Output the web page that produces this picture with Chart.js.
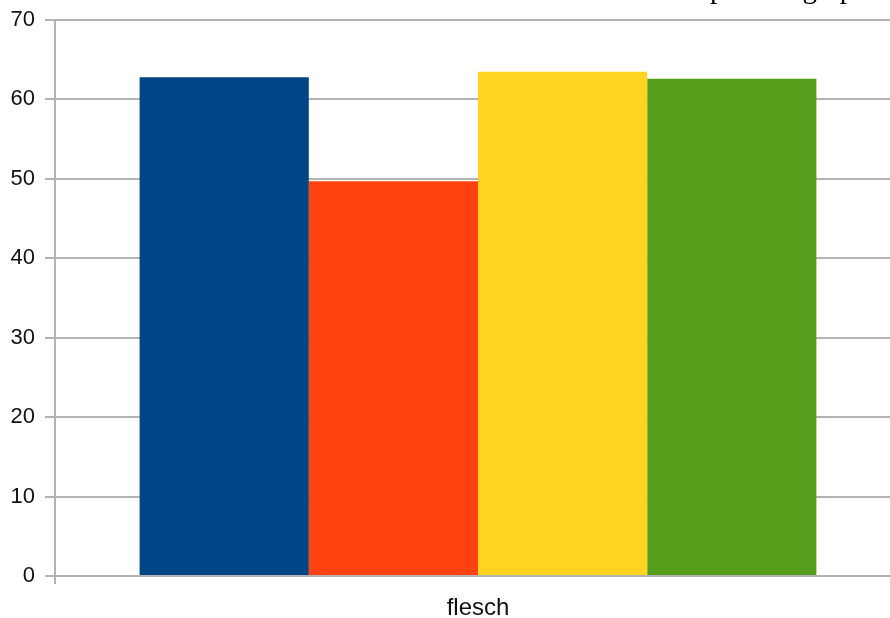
<!DOCTYPE html>
<html>
<head>
<meta charset="utf-8">
<script src="https://cdn.jsdelivr.net/npm/chart.js@4/dist/chart.umd.min.js"></script>
<style>
  html, body { margin: 0; padding: 0; background: #fff; overflow: hidden; }
  #wrap { position: relative; width: 902px; height: 618px; }
</style>
</head>
<body>
<div id="wrap"><canvas id="mainGraph"></canvas></div>
<script>
// chart data
var categories = ["flesch"];
var seriesNames = ["Serie 1", "Serie 2", "Serie 3", "Serie 4"];
var seriesValues = [[62.8], [49.7], [63.5], [62.6]];
var seriesColors = ["#004586", "#ff420e", "#ffd320", "#579d1c"];
var yTicks = [0, 10, 20, 30, 40, 50, 60, 70];
var titleText = "comparison graph";

var datasets = [];
for (var i = 0; i < seriesNames.length; i++) {
    datasets.push({
        label: seriesNames[i],
        data: seriesValues[i],
        backgroundColor: seriesColors[i],
        borderWidth: 0,
        categoryPercentage: 0.8,
        barPercentage: 1.0
    });
}

// title sits above the canvas top, only its descenders show
var topTitle = {
    id: 'topTitle',
    afterDraw: function (chart) {
        var c = chart.ctx;
        c.save();
        c.font = '29px "Liberation Serif"';
        c.fillStyle = '#000';
        c.textBaseline = 'alphabetic';
        c.textAlign = 'left';
        var x = 710 - c.measureText("com").width;
        c.fillText(titleText, x, -2);
        c.restore();
    }
};

var ctx = document.getElementById('mainGraph').getContext('2d');
var chart = new Chart(ctx, {
    type: 'bar',
    data: {
        labels: categories,
        datasets: datasets
    },
    plugins: [topTitle],
    options: {
        responsive: true,
        maintainAspectRatio: false,
        animation: false,
        events: [],
        layout: { padding: { top: 20, right: 1, left: 0, bottom: 0 } },
        plugins: {
            legend: { display: false },
            tooltip: { enabled: false }
        },
        scales: {
            x: {
                offset: true,
                grid: {
                    offset: true,
                    drawOnChartArea: false,
                    tickLength: 8,
                    color: '#b3b3b3',
                    lineWidth: 2
                },
                border: { color: '#b3b3b3', width: 2 },
                ticks: {
                    color: '#111',
                    padding: 10,
                    font: { family: '"Liberation Sans"', size: 24 }
                },
                afterFit: function (scale) { scale.height = 42; }
            },
            y: {
                min: 0,
                max: 70,
                afterBuildTicks: function (scale) {
                    scale.ticks = yTicks.map(function (v) { return { value: v }; });
                },
                grid: {
                    color: '#b3b3b3',
                    lineWidth: 2,
                    tickLength: 10
                },
                border: { color: '#b3b3b3', width: 2 },
                ticks: {
                    color: '#111',
                    padding: 10,
                    font: { family: '"Liberation Sans"', size: 22 }
                },
                afterFit: function (scale) {
                    scale.width = 55;
                    scale.paddingTop = 0;
                    scale.paddingBottom = 0;
                }
            }
        }
    }
});
</script>
</body>
</html>
